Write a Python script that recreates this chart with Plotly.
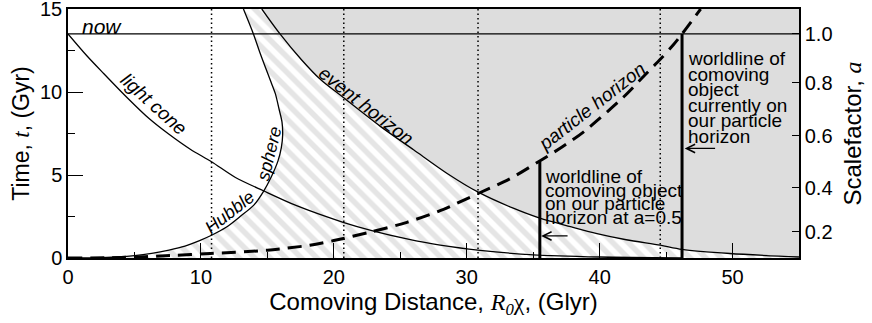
import plotly.graph_objects as go

# ---------------- data ----------------
t_now = 13.5

# past light cone (comoving distance Glyr, time Gyr)
lc_x = [0, 1.4, 2.7, 4.4, 6.1, 7.6, 9.2, 10.8, 12.6, 14.7, 17.2, 20.7, 23.0, 25.5, 28.0, 31.0, 35.0, 40.0, 46.2]
lc_t = [13.5, 12.2, 11.1, 9.7, 8.4, 7.45, 6.55, 5.8, 4.85, 4.05, 3.15, 2.15, 1.62, 1.15, 0.77, 0.46, 0.19, 0.06, 0.0]

# Hubble sphere
hs_x = [0, 2.0, 3.7, 5.0, 6.3, 7.6, 8.8, 9.9, 10.8, 11.9, 12.95, 14.0, 14.7, 15.3, 15.8, 16.05, 16.15,
        16.1, 15.9, 15.6, 15.2, 14.45, 13.95, 13.2]
hs_t = [0, 0.01, 0.06, 0.14, 0.28, 0.48, 0.72, 1.05, 1.37, 1.85, 2.5, 3.2, 4.0, 4.9, 5.85, 6.65, 7.4,
        8.2, 8.9, 9.9, 10.75, 12.35, 13.5, 15.0]

# event horizon
eh_x = [14.58, 15.95, 17.55, 19.0, 20.6, 23.5, 26.0, 28.5, 30.9, 33.5, 35.5, 37.8, 39.8, 42.0, 44.56, 46.2, 49.8, 55.0]
eh_t = [15.0, 13.5, 11.96, 10.75, 9.74, 7.93, 6.52, 5.11, 3.95, 3.0, 2.4, 1.89, 1.47, 1.1, 0.77, 0.52, 0.27, 0.06]

# particle horizon
ph_x = [0, 4.0, 7.7, 10.7, 15.0, 18.2, 20.0, 22.7, 25.5, 28.0, 30.9, 33.2, 35.4, 37.2, 38.8, 41.8, 43.5, 44.6, 45.5, 46.2, 47.6]
ph_t = [0, 0.03, 0.15, 0.27, 0.47, 0.77, 1.05, 1.55, 2.15, 2.85, 3.9, 4.75, 5.8, 6.7, 7.6, 9.7, 11.1, 12.0, 12.8, 13.5, 15.0]

# dotted reference distances
dotted_x = [10.8, 20.75, 30.85, 44.56]

# worldlines (comoving distance, end time)
wl_half_x, wl_half_t = 35.5, 5.8
wl_now_x, wl_now_t = 46.2, 13.5

# right axis: scalefactor ticks and the times at which they occur
a_ticktext = ["0.2", "0.4", "0.6", "0.8", "1.0"]
a_ticktime = [1.58, 4.23, 7.35, 10.56, 13.5]

x_range = [0, 55]
t_range = [0, 15]

# ---------------- figure ----------------
BLACK = "black"
GRAY = "#dddddd"
HATCH = "#cbcbcb"
FONT = "Liberation Sans, Arial, sans-serif"

fig = go.Figure()

# region outside the event horizon (solid gray)
fig.add_trace(go.Scatter(
    x=eh_x + [x_range[1]], y=eh_t + [t_range[1]],
    mode="lines", fill="toself", fillcolor=GRAY, line=dict(width=0),
    hoverinfo="skip", showlegend=False))

# region between Hubble sphere and event horizon (hatched)
fig.add_trace(go.Scatter(
    x=hs_x + eh_x + [x_range[1]], y=hs_t + eh_t + [0],
    mode="lines", fill="toself", fillcolor="white", line=dict(width=0),
    fillpattern=dict(shape="\\", fgcolor=HATCH, bgcolor="white", size=11, solidity=0.5),
    hoverinfo="skip", showlegend=False))

# dotted verticals
for dx in dotted_x:
    fig.add_trace(go.Scatter(x=[dx, dx], y=t_range, mode="lines",
                             line=dict(color=BLACK, width=1.5, dash="1.5px,3px"),
                             hoverinfo="skip", showlegend=False))

# now line
fig.add_trace(go.Scatter(x=x_range, y=[t_now, t_now], mode="lines",
                         line=dict(color=BLACK, width=1.3), hoverinfo="skip", showlegend=False))

# curves
for cx, ct in [(lc_x, lc_t), (hs_x, hs_t), (eh_x, eh_t)]:
    fig.add_trace(go.Scatter(x=cx, y=ct, mode="lines",
                             line=dict(color=BLACK, width=1.3, shape="spline", smoothing=0.8),
                             hoverinfo="skip", showlegend=False))

# worldlines
for wx, wt in [(wl_half_x, wl_half_t), (wl_now_x, wl_now_t)]:
    fig.add_trace(go.Scatter(x=[wx, wx], y=[0, wt], mode="lines",
                             line=dict(color=BLACK, width=3), hoverinfo="skip", showlegend=False))

# particle horizon (dashed)
fig.add_trace(go.Scatter(x=ph_x, y=ph_t, mode="lines",
                         line=dict(color=BLACK, width=3, dash="14px,8px", shape="spline", smoothing=0.8),
                         hoverinfo="skip", showlegend=False))

# invisible trace on the right axis
fig.add_trace(go.Scatter(x=[0], y=[0], yaxis="y2", mode="markers",
                         marker=dict(opacity=0), hoverinfo="skip", showlegend=False))

# ---------------- labels ----------------
def label(x, y, text, angle=0, size=19, xanchor="center", italic=True):
    fig.add_annotation(x=x, y=y, xref="x", yref="y", text=f"<i>{text}</i>" if italic else text,
                       textangle=angle, showarrow=False, xanchor=xanchor, yanchor="middle",
                       font=dict(family=FONT, size=size, color=BLACK))

label(0.9, 13.95, "now", size=21, xanchor="left")
label(6.4, 9.28, "light cone", angle=42)
label(12.17, 2.78, "Hubble", angle=-38, size=18)
label(15.18, 6.3, "sphere", angle=-76, size=18)
label(22.39, 9.17, "event horizon", angle=38)
label(39.4, 9.12, "particle horizon", angle=-38)

block1 = ["worldline of", "comoving object", "on our particle", "horizon at a=0.5"]
block1_t = [4.90, 4.09, 3.30, 2.46]
for txt, tt in zip(block1, block1_t):
    label(35.71, tt, txt, xanchor="left", italic=False, size=19)

block2 = ["worldline of", "comoving", "object", "currently on", "our particle", "horizon"]
block2_t = [12.0, 11.06, 10.13, 9.19, 8.26, 7.32]
for txt, tt in zip(block2, block2_t):
    label(46.47, tt, txt, xanchor="left", italic=False, size=19)

# arrows
for hx, tx, ty in [(35.6, 37.7, 1.33), (46.4, 48.8, 6.6)]:
    fig.add_annotation(x=hx, y=ty, ax=tx, ay=ty, xref="x", yref="y", axref="x", ayref="y",
                       text="", showarrow=True, arrowhead=5, arrowsize=1.4, arrowwidth=1.2,
                       arrowcolor=BLACK, standoff=0)

# ---------------- layout ----------------
axis_common = dict(showgrid=False, zeroline=False, showline=True, linecolor=BLACK, linewidth=1.5,
                   ticks="inside", tickcolor=BLACK, tickwidth=1.2, automargin=False,
                   ticklabeloverflow="allow",
                   tickfont=dict(family=FONT, size=20, color=BLACK))

fig.update_layout(
    width=872, height=323,
    margin=dict(l=68, r=73, t=9, b=65),
    paper_bgcolor="white", plot_bgcolor="white",
    font=dict(family=FONT, color=BLACK),
    xaxis=dict(range=x_range, dtick=10, ticklen=15, mirror=True,
               minor=dict(dtick=5, ticks="inside", ticklen=6, tickcolor=BLACK, tickwidth=1.2),
               title=dict(text="Comoving Distance, <span style=\"font-family:Liberation Serif\"><i>R<sub>0</sub></i>χ</span>, (Glyr)",
                          font=dict(family=FONT, size=24), standoff=2),
               **axis_common),
    yaxis=dict(range=t_range, dtick=5, ticklen=15, mirror=True,
               minor=dict(dtick=2.5, ticks="inside", ticklen=7, tickcolor=BLACK, tickwidth=1.2),
               title=dict(text="Time, <span style=\"font-family:Liberation Serif\"><i>t</i></span>, (Gyr)",
                          font=dict(family=FONT, size=23), standoff=4),
               **axis_common),
    yaxis2=dict(range=t_range, overlaying="y", side="right", anchor="x",
                tickmode="array", tickvals=a_ticktime, ticktext=a_ticktext, ticklen=7,
                title=dict(text="Scalefactor, <span style=\"font-family:Liberation Serif\"><i>a</i></span>",
                           font=dict(family=FONT, size=24), standoff=13),
                **axis_common),
)

fig.write_html("out.html", config={"displayModeBar": False},
               post_script="document.body.style.margin='0';")
